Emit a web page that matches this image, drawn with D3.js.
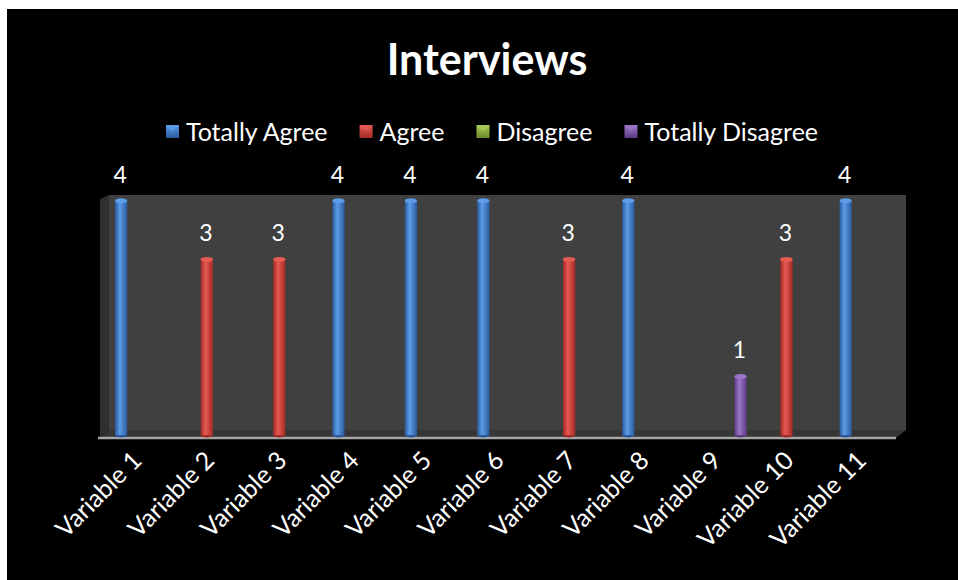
<!DOCTYPE html>
<html>
<head>
<meta charset="utf-8">
<script src="https://cdn.jsdelivr.net/npm/d3@7"></script>
<style>
  body { margin: 0; background: #fff; }
  text { font-family: Lato, "Open Sans", sans-serif; fill: #fff; }
</style>
</head>
<body>
<svg id="chart" width="958" height="580"></svg>
<script>
const categories = ['Variable 1', 'Variable 2', 'Variable 3', 'Variable 4', 'Variable 5', 'Variable 6',
    'Variable 7', 'Variable 8', 'Variable 9', 'Variable 10', 'Variable 11'];
const seriesNames = ['Totally Agree', 'Agree', 'Disagree', 'Totally Disagree'];
const totallyAgree = [4, 0, 0, 4, 4, 4, 0, 4, 0, 0, 4];
const agree = [0, 3, 3, 0, 0, 0, 3, 0, 0, 3, 0];
const disagree = [0, 0, 0, 0, 0, 0, 0, 0, 0, 0, 0];
const totallyDisagree = [0, 0, 0, 0, 0, 0, 0, 0, 1, 0, 0];

const seriesValues = [totallyAgree, agree, disagree, totallyDisagree];
// base, light, dark
const palette = [
    ['#3b7bd0', '#5c9ce8', '#2a5a9c'],
    ['#d23c36', '#e65a52', '#a42a25'],
    ['#8cb23c', '#a9cc58', '#6a8a2a'],
    ['#7c55aa', '#9b76c8', '#5c3c84']
];

const svg = d3.select('#chart');
const defs = svg.append('defs');

// black chart area
svg.append('rect').attr('x', 7).attr('y', 9).attr('width', 951).attr('height', 571).attr('fill', '#000');

const plot = { left: 109, right: 906, top: 195, bottom: 430 };
const depth = { dx: 9, dy: -8 };

const x = d3.scaleBand().domain(categories).range([plot.left, plot.right]);
const xInner = d3.scaleBand().domain(seriesNames).range([6, 58]).paddingInner(0.08);
const y = d3.scaleLinear().domain([0, 4.1]).range([435, 195]);

// gradients
palette.forEach((c, i) => {
    const g = defs.append('linearGradient').attr('id', 'cyl' + i)
        .attr('x1', 0).attr('x2', 1).attr('y1', 0).attr('y2', 0);
    g.append('stop').attr('offset', 0).attr('stop-color', c[2]);
    g.append('stop').attr('offset', 0.4).attr('stop-color', c[1]);
    g.append('stop').attr('offset', 1).attr('stop-color', c[2]);

    const m = defs.append('linearGradient').attr('id', 'mark' + i)
        .attr('x1', 0).attr('x2', 0).attr('y1', 0).attr('y2', 1);
    m.append('stop').attr('offset', 0).attr('stop-color', c[1]);
    m.append('stop').attr('offset', 1).attr('stop-color', c[2]);
});

// walls
svg.append('polygon')
    .attr('points', [[plot.left - depth.dx, plot.top + 4], [plot.left, plot.top], [plot.left, plot.bottom], [plot.left - depth.dx, plot.bottom - depth.dy]].join(' '))
    .attr('fill', '#2f2f2f');
svg.append('rect')
    .attr('x', plot.left).attr('y', plot.top)
    .attr('width', plot.right - plot.left).attr('height', plot.bottom - plot.top)
    .attr('fill', '#404040');
svg.append('polygon')
    .attr('points', [[plot.left - depth.dx, plot.bottom - depth.dy], [plot.left, plot.bottom], [plot.right, plot.bottom], [plot.right - depth.dx - 1, plot.bottom - depth.dy]].join(' '))
    .attr('fill', '#363636');
svg.append('line')
    .attr('x1', plot.left - depth.dx - 2).attr('x2', plot.right - depth.dx - 1)
    .attr('y1', plot.bottom - depth.dy).attr('y2', plot.bottom - depth.dy)
    .attr('stroke', '#a6a6a6').attr('stroke-width', 2.5);

// bars
const bars = [];
seriesValues.forEach((vals, si) => {
    vals.forEach((v, ci) => {
        if (v > 0) bars.push({ cat: categories[ci], series: seriesNames[si], si: si, value: v });
    });
});

const w = xInner.bandwidth();
const barG = svg.append('g').selectAll('g').data(bars).enter().append('g')
    .attr('transform', (d) => 'translate(' + (x(d.cat) + xInner(d.series)) + ',0)');

barG.append('ellipse')
    .attr('cx', w / 2).attr('cy', y(0)).attr('rx', w / 2).attr('ry', 2.5)
    .attr('fill', (d) => palette[d.si][2]);
barG.append('rect')
    .attr('x', 0).attr('width', w)
    .attr('y', (d) => y(d.value)).attr('height', (d) => y(0) - y(d.value))
    .attr('fill', (d) => 'url(#cyl' + d.si + ')');
barG.append('ellipse')
    .attr('cx', w / 2).attr('cy', (d) => y(d.value)).attr('rx', w / 2).attr('ry', 2.5)
    .attr('fill', (d) => palette[d.si][1]);

// data labels
barG.append('text')
    .attr('x', w / 2 - 1).attr('y', (d) => y(d.value) - 18)
    .attr('text-anchor', 'middle')
    .style('font-size', '23px')
    .text((d) => d.value);

// x axis labels
svg.append('g').selectAll('text').data(categories).enter().append('text')
    .attr('transform', (d) => 'translate(' + (x(d) + x.bandwidth() / 2 - 2) + ',462) rotate(-45)')
    .attr('text-anchor', 'end')
    .style('font-size', '25px')
    .text((d) => d);

// title
svg.append('text')
    .attr('x', 487).attr('y', 75)
    .attr('text-anchor', 'middle')
    .style('font-size', '43px').style('font-weight', 'bold')
    .text('Interviews');

// legend
const legend = svg.append('g');
let lx = 0;
seriesNames.forEach((name, i) => {
    const item = legend.append('g').attr('transform', 'translate(' + lx + ',0)');
    item.append('rect').attr('x', 0).attr('y', -16).attr('width', 13).attr('height', 13)
        .attr('fill', 'url(#mark' + i + ')');
    item.append('path').attr('d', 'M1,-15 L12,-15 L6.5,-9.5 Z').attr('fill', palette[i][1]).attr('opacity', 0.8);
    const t = item.append('text').attr('x', 20).attr('y', 0).style('font-size', '25px').text(name);
    lx += 20 + t.node().getComputedTextLength() + 32;
});
lx -= 32;
legend.attr('transform', 'translate(' + (492 - lx / 2) + ',141)');
</script>
</body>
</html>
